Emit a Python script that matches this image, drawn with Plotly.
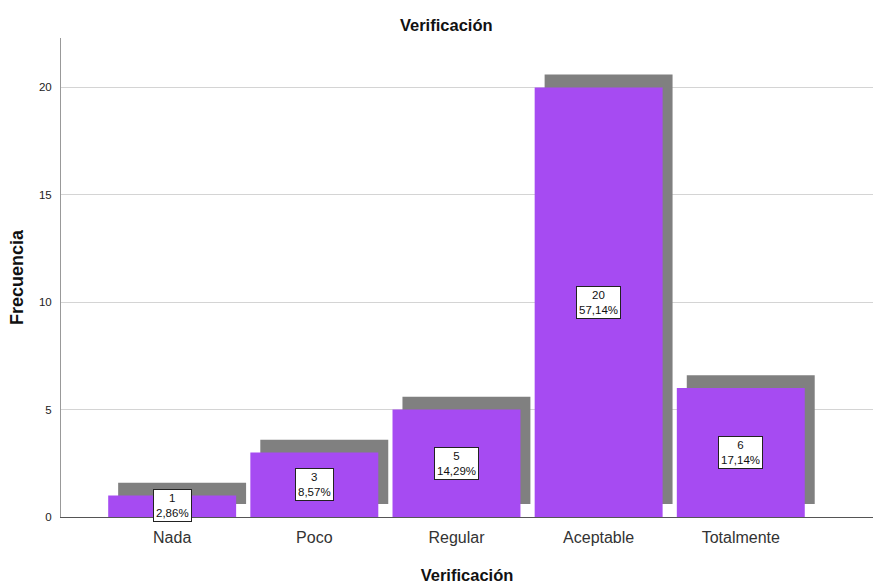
import plotly.graph_objects as go

categories = ["Nada", "Poco", "Regular", "Aceptable", "Totalmente"]
frequencies = [1, 3, 5, 20, 6]
percent_labels = ["2,86%", "8,57%", "14,29%", "57,14%", "17,14%"]
y_ticks = [0, 5, 10, 15, 20]

SHADOW_LIFT = 0.6
PURPLE = "#A64BF2"
GRAY = "#808080"

fig = go.Figure()
fig.add_trace(go.Bar(
    x=categories, y=frequencies, base=[SHADOW_LIFT] * len(categories),
    offset=-0.38, width=0.9, marker=dict(color=GRAY, line=dict(width=0)),
    hoverinfo="skip", showlegend=False,
))
fig.add_trace(go.Bar(
    x=categories, y=frequencies,
    offset=-0.45, width=0.9, marker=dict(color=PURPLE, line=dict(width=0)),
    showlegend=False,
))

for c, v, p in zip(categories, frequencies, percent_labels):
    fig.add_annotation(
        x=c, y=v / 2 if v > 1.2 else 0.55, text=f"{v}<br>{p}", showarrow=False,
        font=dict(family="Liberation Sans, Arial", size=11.5, color="#111"),
        bgcolor="white", bordercolor="#222", borderwidth=1, borderpad=2,
    )

fig.update_layout(
    barmode="overlay",
    width=875, height=586,
    margin=dict(l=61, r=2, t=38, b=69),
    paper_bgcolor="white", plot_bgcolor="white",
    font=dict(family="Liberation Sans, Arial", color="#222"),
    title=dict(text="<b>Verificación</b>", x=0.51, xanchor="center", y=0.957, yanchor="middle",
               font=dict(size=16.5, color="#111")),
)
fig.update_xaxes(
    range=[-0.782, 4.93], showgrid=False, showline=True, linecolor="#555", linewidth=1,
    ticks="", ticklabelstandoff=6, tickfont=dict(size=16, color="#333"),
    title=dict(text="<b>Verificación</b>", font=dict(size=16.5, color="#111"), standoff=24),
)
fig.update_yaxes(
    range=[0, 22.3], tickvals=y_ticks, showgrid=True, gridcolor="#D4D4D4", gridwidth=1,
    showline=True, linecolor="#999", linewidth=1, zeroline=False,
    ticks="", ticklabelstandoff=6, tickfont=dict(size=11.5, color="#222"),
    title=dict(text="<b>Frecuencia</b>", font=dict(size=18, color="#111"), standoff=10),
)

fig.write_html("out.html", config={"displayModeBar": False},
               post_script="document.body.style.margin='0';")
